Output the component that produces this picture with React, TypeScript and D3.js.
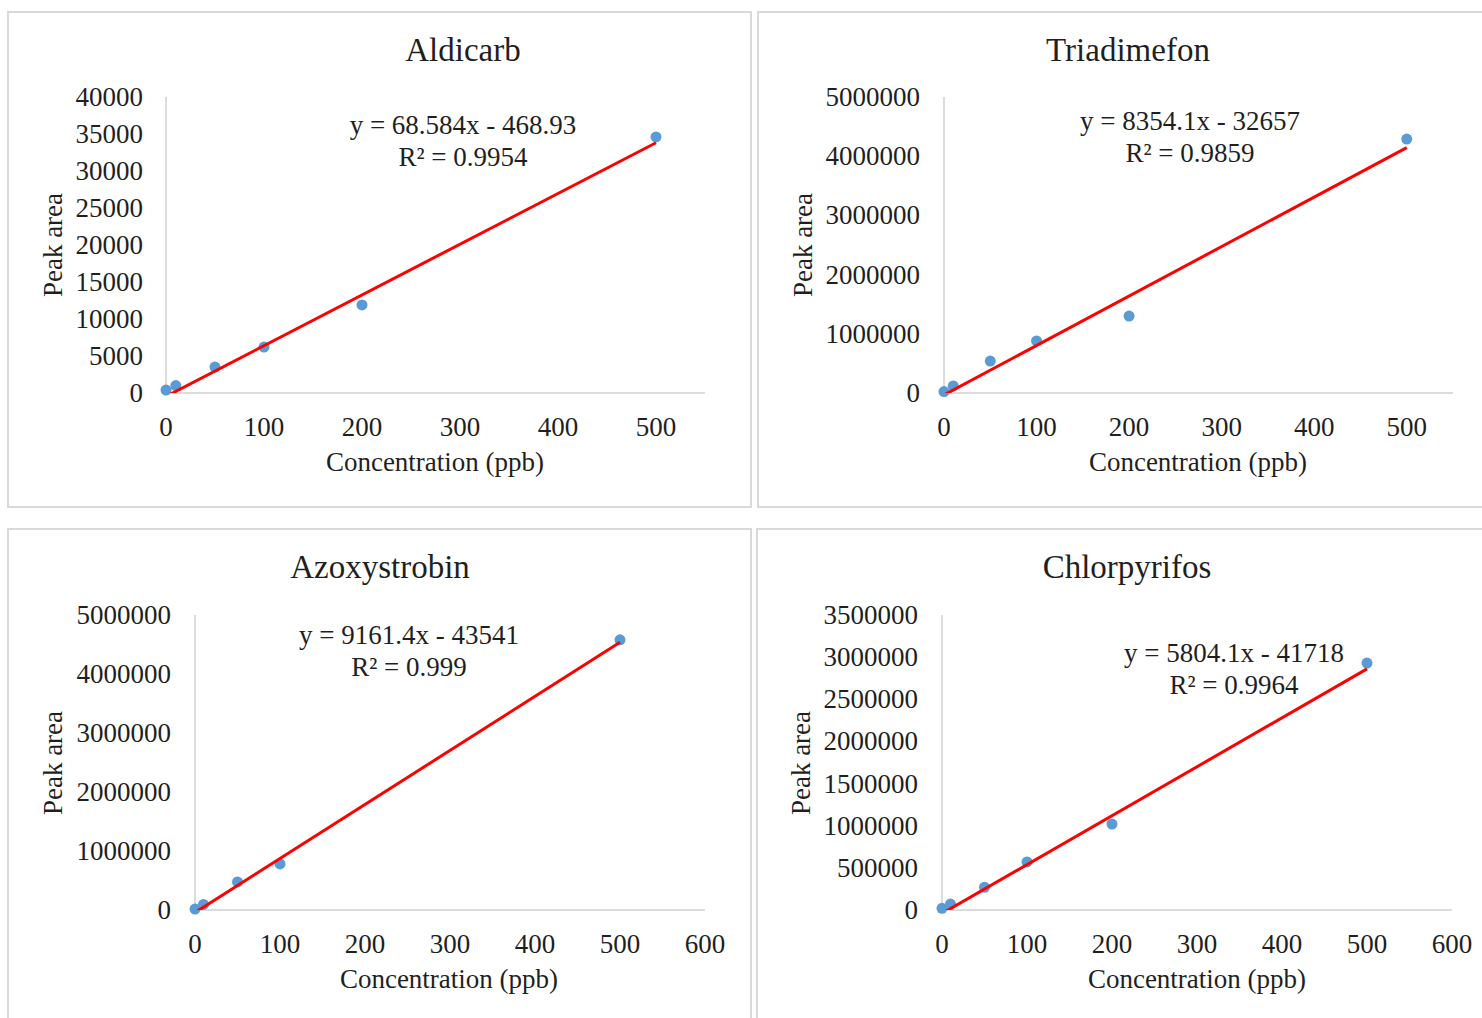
import React from "react";
import * as d3 from "d3";

// ---- data ----
const concentrations = [0, 10, 50, 100, 200, 500];
const azoxystrobinConcentrations = [0, 10, 50, 100, 500];

const aldicarbArea = [400, 1000, 3500, 6200, 11900, 34600];
const triadimefonArea = [25000, 120000, 540000, 880000, 1300000, 4290000];
const azoxystrobinArea = [15000, 95000, 475000, 780000, 4580000];
const chlorpyrifosArea = [20000, 70000, 270000, 570000, 1020000, 2930000];

const compoundNames = ["Aldicarb", "Triadimefon", "Azoxystrobin", "Chlorpyrifos"];
const slopes = [68.584, 8354.1, 9161.4, 5804.1];
const intercepts = [-468.93, -32657, -43541, -41718];
const equationLabels = [
  "y = 68.584x - 468.93",
  "y = 8354.1x - 32657",
  "y = 9161.4x - 43541",
  "y = 5804.1x - 41718",
];
const r2Labels = ["R² = 0.9954", "R² = 0.9859", "R² = 0.999", "R² = 0.9964"];

const yMaxes = [40000, 5000000, 5000000, 3500000];
const yTickSteps = [5000, 1000000, 1000000, 500000];
const xMaxes = [550, 550, 600, 600];
const xTickMaxes = [500, 500, 600, 600];

const xLabel = "Concentration (ppb)";
const yLabel = "Peak area";

// ---- layout (positions only) ----
type Layout = {
  box: [number, number, number, number];
  plot: { x0: number; x1: number; y0: number; y1: number };
  title: [number, number];
  yTitle: [number, number];
  xTitle: [number, number];
  eq: [number, number];
  yLabelRight: number;
};

const layouts: Layout[] = [
  { box: [8, 12, 751, 507], plot: { x0: 166, x1: 705, y0: 393, y1: 97 }, title: [463, 50], yTitle: [53, 245], xTitle: [435, 462], eq: [463, 125], yLabelRight: 143 },
  { box: [758, 12, 1495, 507], plot: { x0: 944, x1: 1453, y0: 393, y1: 97 }, title: [1128, 50], yTitle: [803, 245], xTitle: [1198, 462], eq: [1190, 121], yLabelRight: 920 },
  { box: [8, 529, 751, 1030], plot: { x0: 195, x1: 705, y0: 910, y1: 615 }, title: [380, 567], yTitle: [53, 763], xTitle: [449, 979], eq: [409, 635], yLabelRight: 171 },
  { box: [757, 529, 1495, 1030], plot: { x0: 942, x1: 1452, y0: 910, y1: 615 }, title: [1127, 567], yTitle: [801, 763], xTitle: [1197, 979], eq: [1234, 653], yLabelRight: 918 },
];

const seriesX = [concentrations, concentrations, azoxystrobinConcentrations, concentrations];
const seriesY = [aldicarbArea, triadimefonArea, azoxystrobinArea, chlorpyrifosArea];

const FONT = "'Liberation Serif', 'Times New Roman', serif";
const TEXT = "#1f1f1f";

function Panel({ i }: { i: number }) {
  const L = layouts[i];
  const { x0, x1, y0, y1 } = L.plot;
  const x = d3.scaleLinear().domain([0, xMaxes[i]]).range([x0, x1]);
  const y = d3.scaleLinear().domain([0, yMaxes[i]]).range([y0, y1]);
  const xTicks = d3.range(0, xTickMaxes[i] + 1, 100);
  const yTicks = d3.range(0, yMaxes[i] + 1, yTickSteps[i]);
  const xs = seriesX[i];
  const ys = seriesY[i];
  const xMin = d3.min(xs) as number;
  const xMax = d3.max(xs) as number;
  const trend = (v: number) => slopes[i] * v + intercepts[i];
  const line = d3
    .line<number>()
    .x((v) => x(v))
    .y((v) => y(trend(v)));
  const clipId = `clip-${i}`;
  const [bx0, by0, bx1, by1] = L.box;
  return (
    <g>
      <rect x={bx0} y={by0} width={bx1 - bx0} height={by1 - by0} fill="#fff" stroke="#d9d9d9" strokeWidth={2} />
      <defs>
        <clipPath id={clipId}>
          <rect x={x0} y={y1 - 20} width={x1 - x0 + 10} height={y0 - y1 + 20} />
        </clipPath>
      </defs>
      <text x={L.title[0]} y={L.title[1]} textAnchor="middle" dominantBaseline="central" fontSize={33} fill={TEXT} fontFamily={FONT}>
        {compoundNames[i]}
      </text>
      {/* axes */}
      <line x1={x0} x2={x0} y1={y1} y2={y0} stroke="#d0d0d0" strokeWidth={1.5} />
      <line x1={x0} x2={x1} y1={y0} y2={y0} stroke="#d0d0d0" strokeWidth={1.5} />
      {yTicks.map((t) => (
        <text key={"y" + t} x={L.yLabelRight} y={y(t)} textAnchor="end" dominantBaseline="central" fontSize={27} fill={TEXT} fontFamily={FONT}>
          {t}
        </text>
      ))}
      {xTicks.map((t) => (
        <text key={"x" + t} x={x(t)} y={y0 + 34} textAnchor="middle" dominantBaseline="central" fontSize={27} fill={TEXT} fontFamily={FONT}>
          {t}
        </text>
      ))}
      <text x={L.xTitle[0]} y={L.xTitle[1]} textAnchor="middle" dominantBaseline="central" fontSize={27} fill={TEXT} fontFamily={FONT}>
        {xLabel}
      </text>
      <text
        transform={`translate(${L.yTitle[0]},${L.yTitle[1]}) rotate(-90)`}
        textAnchor="middle"
        dominantBaseline="central"
        fontSize={27}
        fill={TEXT}
        fontFamily={FONT}
      >
        {yLabel}
      </text>
      {/* points */}
      {xs.map((v, k) => (
        <circle key={k} cx={x(v)} cy={y(ys[k])} r={5.5} fill="#5b9bd5" />
      ))}
      {/* trendline */}
      <path d={line([xMin, xMax]) || ""} stroke="#ff0000" strokeWidth={3} fill="none" clipPath={`url(#${clipId})`} />
      <text x={L.eq[0]} y={L.eq[1]} textAnchor="middle" dominantBaseline="central" fontSize={27} fill={TEXT} fontFamily={FONT}>
        {equationLabels[i]}
      </text>
      <text x={L.eq[0]} y={L.eq[1] + 32} textAnchor="middle" dominantBaseline="central" fontSize={27} fill={TEXT} fontFamily={FONT}>
        {r2Labels[i]}
      </text>
    </g>
  );
}

export default function App() {
  return (
    <svg
      width={1482}
      height={1018}
      style={{ position: "absolute", left: 0, top: 0, background: "#fff" }}
    >
      <rect x={0} y={0} width={1482} height={1018} fill="#fff" />
      {[0, 1, 2, 3].map((i) => (
        <Panel key={i} i={i} />
      ))}
    </svg>
  );
}
